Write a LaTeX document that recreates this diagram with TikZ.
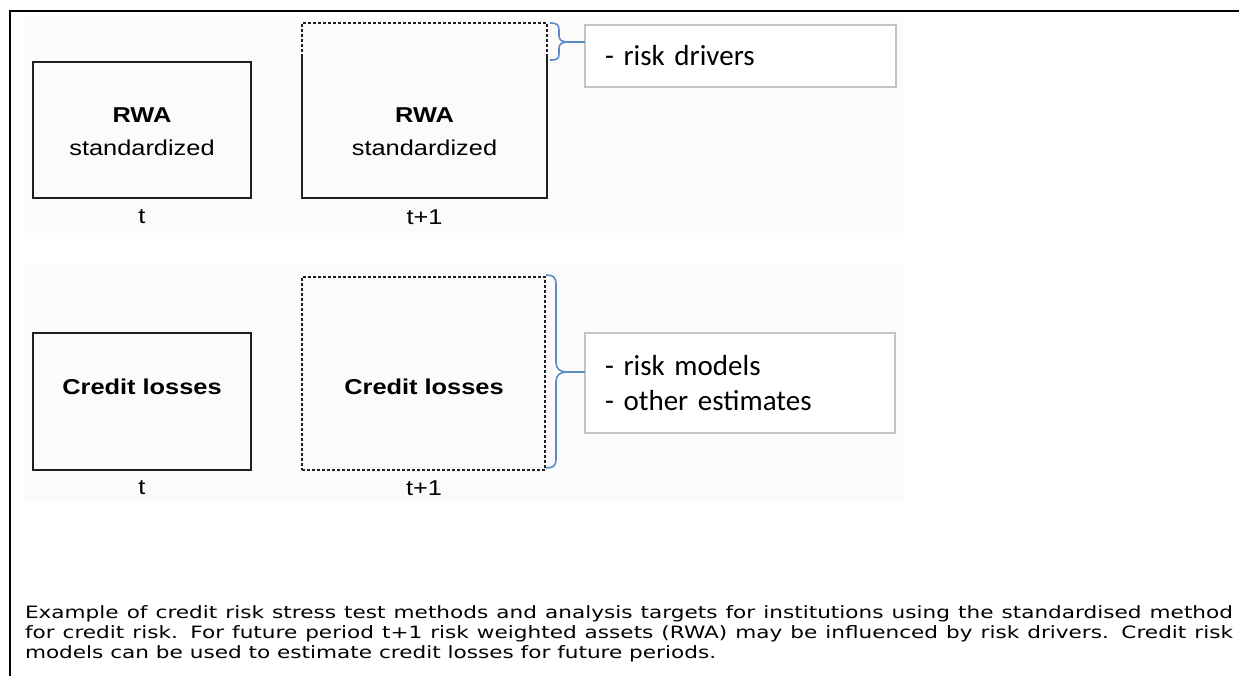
\documentclass[tikz,border=0pt]{standalone}
\usepackage{fontspec}
\setmainfont{Liberation Sans}
\newfontfamily\boxfont[FakeStretch=1.18]{Liberation Sans}
\newfontfamily\notefont{Carlito}
\newfontfamily\capfont[FakeStretch=1.27]{DejaVu Sans}
\definecolor{bracecol}{HTML}{5B8BC8}
\definecolor{notegray}{HTML}{C4C4C4}
\definecolor{bgfaint}{HTML}{FBFBFB}
\begin{document}
\begin{tikzpicture}[x=1pt,y=-1pt,
  every node/.style={inner sep=0pt, outer sep=0pt},
  solidline/.style={draw=black!88, line width=1.8pt},
  dashline/.style={draw=black!88, line width=1.6pt, dash pattern=on 3pt off 2pt},
  solidbox/.style={solidline, rectangle},
  dashbox/.style={dashline, rectangle},
  boxtext/.style={font={\boxfont\fontsize{21.5}{33}\selectfont}, align=center},
  timelbl/.style={font={\boxfont\fontsize{21.5}{26}\selectfont}},
  notebox/.style={draw=notegray, line width=2.2pt, fill=white, rectangle, inner xsep=20pt, align=left, font={\notefont\fontsize{29}{35}\selectfont}},
  bracepath/.style={draw=bracecol, line width=1.6pt},
]
\useasboundingbox (0,0) rectangle (1239,675);
% faint backgrounds
\fill[bgfaint] (24,17) rectangle (903,233);
\fill[bgfaint] (25,265) rectangle (903,502);
% outer frame (top and left visible)
\draw[line width=2.4pt] (10,700) -- (10,11) -- (1260,11);

% RWA at t
\node[solidbox, minimum width=218pt, minimum height=136pt] (b1) at (142,130) {};
\node[boxtext] (b1t) at (142,131.5) {\textbf{RWA}\\standardized};
\node[timelbl] (t1) at (142,217) {t};

% RWA at t+1
\node[rectangle, minimum width=245pt, minimum height=141pt] (b2) at (424.5,127.5) {};
\draw[solidline] (b2.north west) -- (b2.south west) -- (b2.south east) -- (b2.north east);
\draw[dashline] (b2.north west) -- ++(0,-34) -| (b2.north east);
\node[boxtext] (b2t) at (424.5,131.5) {\textbf{RWA}\\standardized};
\node[timelbl] (t2) at (424.5,217) {t+1};

% Credit losses at t
\node[solidbox, minimum width=218pt, minimum height=137pt] (b3) at (142,401.5) {};
\node[boxtext] (b3t) at (142,387) {\textbf{Credit losses}};
\node[timelbl] (t3) at (142,488) {t};

% Credit losses at t+1
\node[dashbox, minimum width=243pt, minimum height=193pt] (b4) at (423.5,373.5) {};
\node[boxtext] (b4t) at (424,387) {\textbf{Credit losses}};
\node[timelbl] (t4) at (424,488) {t+1};

% note boxes
\node[notebox, minimum width=311pt, minimum height=62pt, text width=271pt] (rd) at (740.5,56) {- risk drivers};
\node[notebox, minimum width=310pt, minimum height=100pt, text width=270pt] (rm) at (740,383) {- risk models\\- other estimates};

% braces
\coordinate (tb) at (568,42);
\draw[bracepath] (550,23) .. controls (557,23) and (559,25) .. (559,30) -- (559,36)
  .. controls (559,40) and (562,42) .. (tb)
  .. controls (562,42) and (559,44) .. (559,48) -- (559,54)
  .. controls (559,59) and (557,60) .. (550,60);
\draw[bracepath] (tb) -- (tb -| rd.west);

\coordinate (bb) at (567,372);
\draw[bracepath] (546,275) .. controls (553,275) and (556,277) .. (556,284) -- (556,362)
  .. controls (556,369) and (560,372) .. (bb)
  .. controls (560,372) and (556,375) .. (556,382) -- (556,459)
  .. controls (556,466) and (553,468) .. (546,468);
\draw[bracepath] (bb) -- (bb -| rm.west);

% caption
\node[anchor=north west, text width=1208pt, align=justify, font={\capfont\fontsize{17}{20}\selectfont}] (cap) at (25,606)
{Example of credit risk stress test methods and analysis targets for institutions using the standardised method\linebreak
for credit risk. For future period t+1 risk weighted assets (RWA) may be influenced by risk drivers. Credit risk\linebreak
models can be used to estimate credit losses for future periods.};
\end{tikzpicture}
\end{document}
